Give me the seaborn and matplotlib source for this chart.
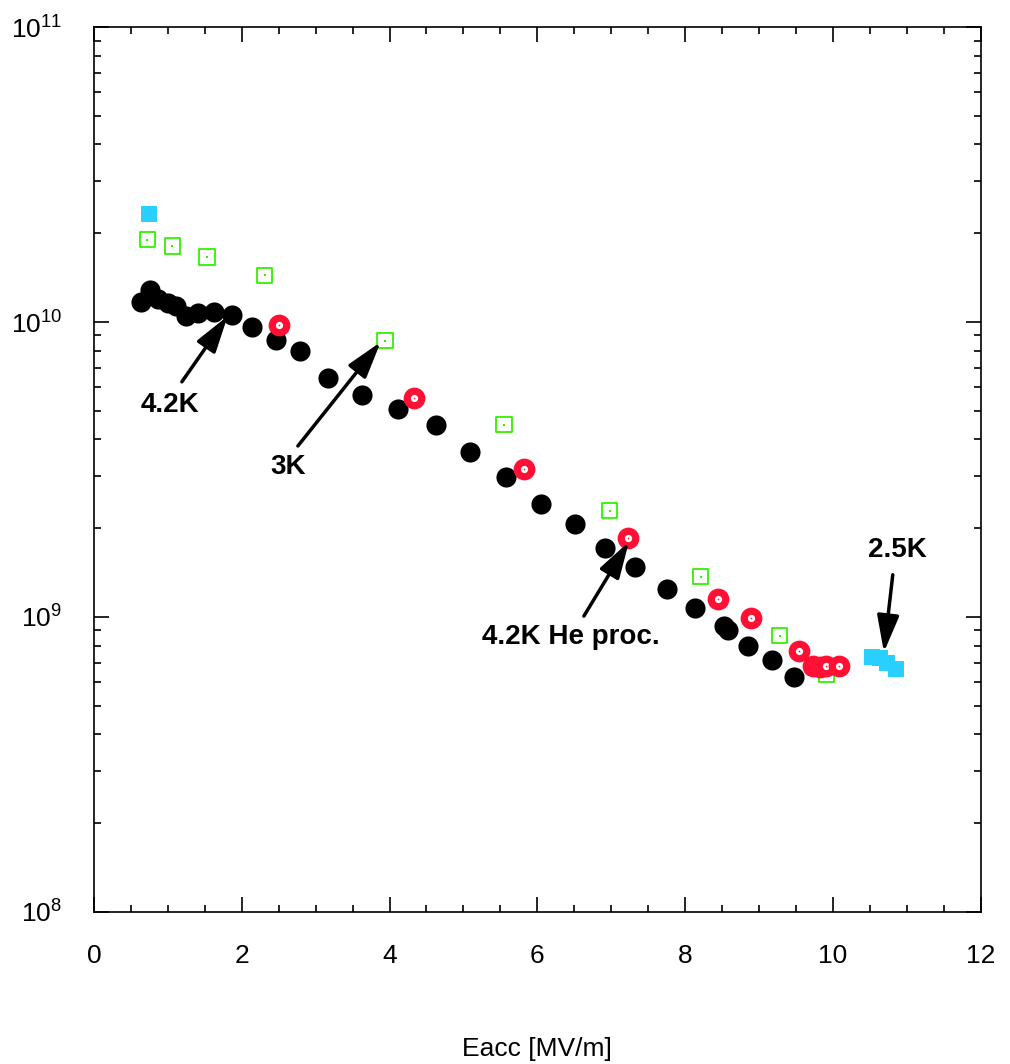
import numpy as np
import pandas as pd
import matplotlib
matplotlib.use("Agg")
import matplotlib.pyplot as plt
import seaborn as sns
from matplotlib.ticker import LogLocator, MultipleLocator, NullFormatter

# datos
eacc_42k = [0.64, 0.76, 0.87, 1.00, 1.11, 1.25, 1.41, 1.62, 1.87, 2.14, 2.46, 2.79, 3.17,
            3.63, 4.11, 4.63, 5.09, 5.58, 6.05, 6.51, 6.91, 7.32, 7.75, 8.13, 8.52, 8.58,
            8.85, 9.17, 9.47]
q0_42k = [1.17e10, 1.28e10, 1.20e10, 1.16e10, 1.13e10, 1.05e10, 1.07e10, 1.08e10, 1.06e10,
          9.6e9, 8.7e9, 8.0e9, 6.46e9, 5.66e9, 5.07e9, 4.48e9, 3.62e9, 2.98e9, 2.42e9,
          2.07e9, 1.71e9, 1.48e9, 1.24e9, 1.07e9, 9.3e8, 9.0e8, 8.0e8, 7.15e8, 6.26e8]

eacc_he = [2.50, 4.33, 5.82, 7.23, 8.44, 8.89, 9.54, 9.73, 9.83, 9.91, 10.08]
q0_he = [9.77e9, 5.52e9, 3.18e9, 1.85e9, 1.15e9, 9.9e8, 7.67e8, 6.82e8, 6.78e8, 6.8e8, 6.82e8]

eacc_3k = [0.72, 1.06, 1.53, 2.31, 3.94, 5.55, 6.98, 8.21, 9.28, 9.91]
q0_3k = [1.90e10, 1.81e10, 1.66e10, 1.44e10, 8.63e9, 4.48e9, 2.29e9, 1.37e9, 8.63e8, 6.4e8]

eacc_25k = [0.74, 10.53, 10.64, 10.73, 10.85]
q0_25k = [2.32e10, 7.31e8, 7.26e8, 6.99e8, 6.67e8]

sns.set_style("ticks")
plt.rcParams['font.family'] = ['Liberation Sans', 'DejaVu Sans']
plt.rcParams['mathtext.fontset'] = 'custom'
plt.rcParams['mathtext.rm'] = 'Liberation Sans'
plt.rcParams['mathtext.it'] = 'Liberation Sans:italic'
plt.rcParams['text.color'] = 'black'
plt.rcParams['axes.labelcolor'] = 'black'
plt.rcParams['xtick.color'] = 'black'
plt.rcParams['ytick.color'] = 'black'

fig = plt.figure(figsize=(10.10, 10.64), dpi=100)
ax = fig.add_axes([0.093, 0.1429, 0.878, 0.8317])

df3 = pd.DataFrame({'Eacc': eacc_3k, 'Q0': q0_3k})
df42 = pd.DataFrame({'Eacc': eacc_42k, 'Q0': q0_42k})
dfhe = pd.DataFrame({'Eacc': eacc_he, 'Q0': q0_he})
df25 = pd.DataFrame({'Eacc': eacc_25k, 'Q0': q0_25k})

verde = '#33f000'
rojo = '#ff1034'
cian = '#29cfff'

sns.scatterplot(data=df3, x='Eacc', y='Q0', marker='s', s=120, facecolor='none',
                edgecolor=verde, linewidth=1.3, ax=ax, zorder=2)
sns.scatterplot(data=df3, x='Eacc', y='Q0', marker='s', s=1.0, color=verde,
                linewidth=0, ax=ax, zorder=2)
sns.scatterplot(data=df42, x='Eacc', y='Q0', marker='o', s=210, color='black',
                linewidth=0, ax=ax, zorder=3)
sns.scatterplot(data=dfhe, x='Eacc', y='Q0', marker='o', s=110, facecolor='white',
                edgecolor=rojo, linewidth=5.2, ax=ax, zorder=4)
sns.scatterplot(data=dfhe, x='Eacc', y='Q0', marker='o', s=1.5, color=rojo,
                linewidth=0, ax=ax, zorder=5)
sns.scatterplot(data=df25, x='Eacc', y='Q0', marker='s', s=140, color=cian,
                linewidth=0, ax=ax, zorder=4)

ax.set_yscale('log')
ax.set_xlim(0, 12)
ax.set_ylim(1e8, 1e11)
ax.xaxis.set_major_locator(MultipleLocator(2))
ax.xaxis.set_minor_locator(MultipleLocator(0.5))
ax.yaxis.set_major_locator(LogLocator(base=10))
ax.yaxis.set_minor_locator(LogLocator(base=10, subs=np.arange(2, 10)))
ax.yaxis.set_minor_formatter(NullFormatter())

ax.tick_params(which='both', direction='in', top=True, right=True, colors='black',
               width=1.2, labelsize=19)
ax.tick_params(which='major', length=11)
ax.tick_params(which='minor', length=5)
ax.tick_params(axis='x', which='major', pad=23)
ax.tick_params(axis='y', which='major', pad=23)
for sp in ax.spines.values():
    sp.set_linewidth(1.2)
    sp.set_color('black')

ax.set_xlabel('Eacc [MV/m]', fontsize=19, labelpad=50)
ax.set_ylabel('')

# flechas y etiquetas
flechas = [
    ('4.2K', (1.03, 5.24e9), (1.19, 6.27e9), (1.81, 1.047e10)),
    ('3K', (2.63, 3.22e9), (2.76, 3.80e9), (3.88, 8.55e9)),
    ('4.2K He proc.', (6.45, 8.55e8), (6.63, 1.007e9), (7.24, 1.80e9)),
    ('2.5K', (10.87, 1.69e9), (10.81, 1.39e9), (10.69, 7.6e8)),
]
for txt, pos, cola, punta in flechas:
    ax.annotate('', xy=punta, xytext=cola,
                arrowprops=dict(arrowstyle='-|>,head_length=1.5,head_width=0.45',
                                color='black', lw=2.5, mutation_scale=15,
                                shrinkA=0, shrinkB=0), zorder=6)
    ax.text(pos[0], pos[1], txt, fontsize=20, fontweight='bold', ha='center',
            va='center', zorder=6)

fig.savefig('out.png', dpi=100)
